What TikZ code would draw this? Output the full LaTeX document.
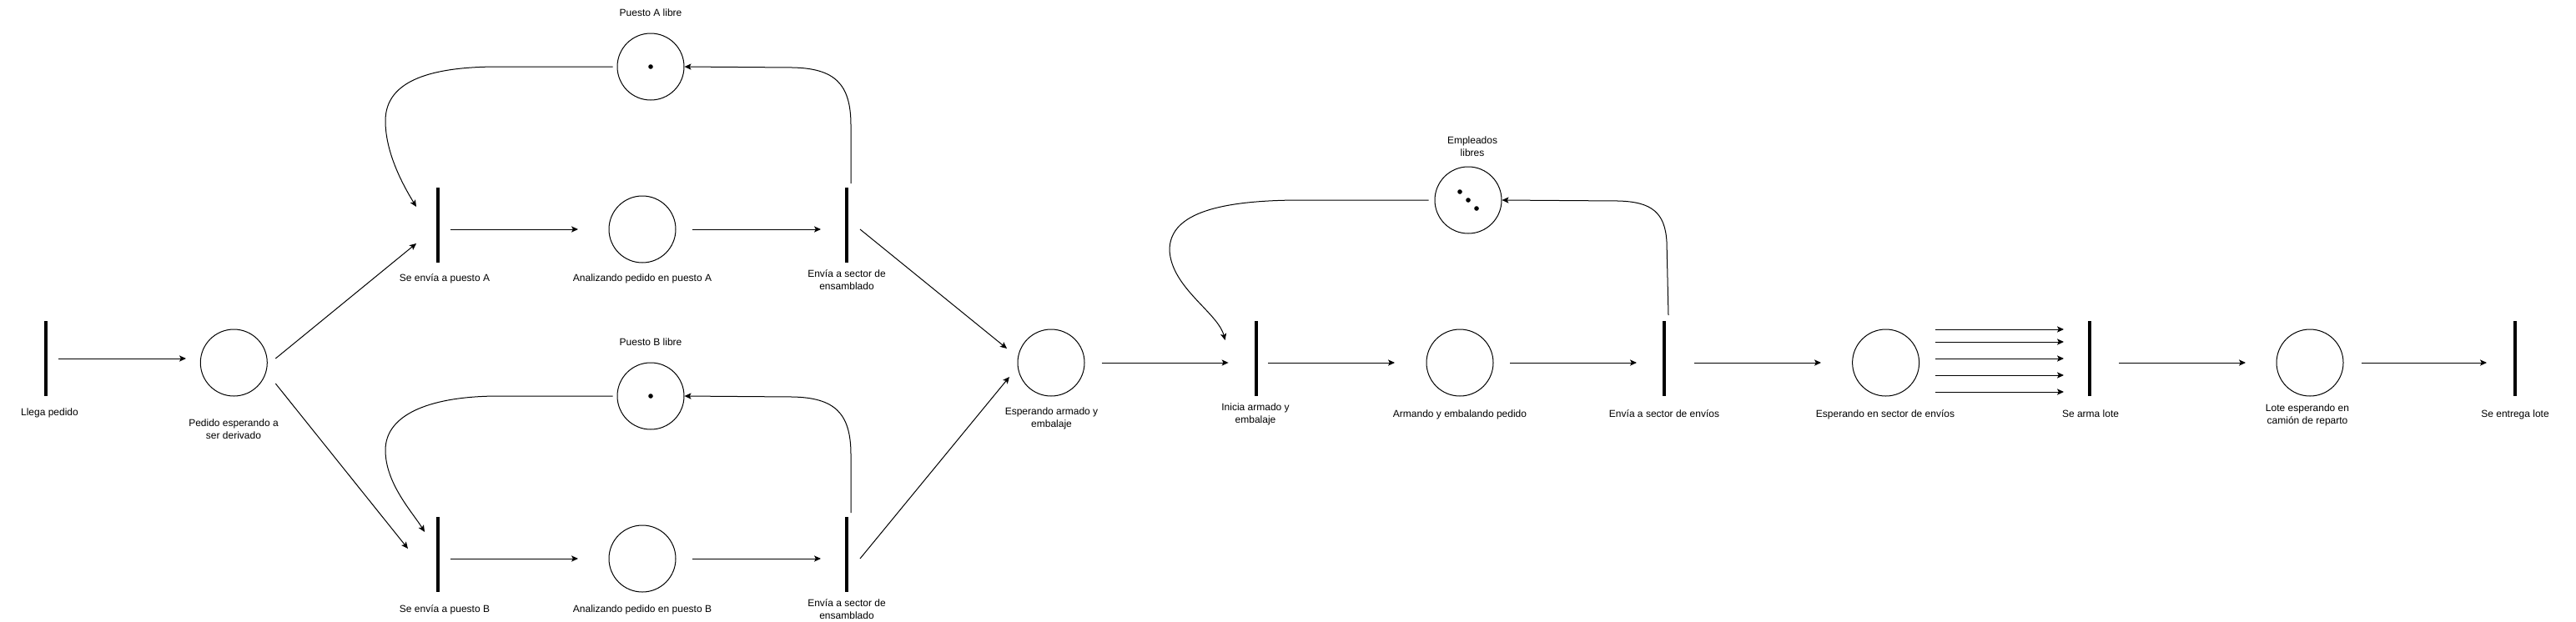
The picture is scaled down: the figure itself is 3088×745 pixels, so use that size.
\documentclass[tikz,border=0pt]{standalone}
\usepackage{fontspec}
\setmainfont{Liberation Sans}
\usetikzlibrary{arrows.meta,calc}
\begin{document}
\begin{tikzpicture}[x=0.5pt,y=-0.5pt,
  place/.style={circle,draw,line width=0.5pt,minimum size=40pt,inner sep=0pt},
  trans/.style={rectangle,fill=black,draw=none,minimum width=2pt,minimum height=45pt,inner sep=0pt},
  lbl/.style={font=\fontsize{6}{7.5}\selectfont,align=center,inner sep=0pt,anchor=base},
  arr/.style={line width=0.5pt,-{Stealth[length=4pt,width=3.6pt,inset=0.9pt]}},
  tok/.style={circle,fill=black,inner sep=0pt,minimum size=2.8pt}
]
\fill[white] (0,0) rectangle (3088,745);
\useasboundingbox (0,0) rectangle (3088,745);

% transitions and places
\node[trans] (t0) at (55.3,430) {};
\node[place] (p1) at (280.3,435) {};
\node[trans] (tA) at (525,270) {};
\node[place] (pA) at (770,275) {};
\node[trans] (eA) at (1015,270) {};
\node[place] (fA) at (780,80) {};
\node[trans] (tB) at (525,665) {};
\node[place] (pB) at (770,670) {};
\node[trans] (eB) at (1015,665) {};
\node[place] (fB) at (780,475) {};
\node[place] (p3) at (1260,435) {};
\node[trans] (tI) at (1506,430) {};
\node[place] (p4) at (1750,435) {};
\node[trans] (tE) at (1995,430) {};
\node[place] (fE) at (1760,240) {};
\node[place] (p5) at (2260.6,435) {};
\node[trans] (tL) at (2505.3,430) {};
\node[place] (p6) at (2769,435) {};
\node[trans] (tS) at (3015,430) {};

% tokens
\node[tok] (kA) at (fA.center) {};
\node[tok] (kB) at (fB.center) {};
\node[tok] (kE1) at ($(fE.center)+(-10,-10)$) {};
\node[tok] (kE2) at (fE.center) {};
\node[tok] (kE3) at ($(fE.center)+(10,10)$) {};

% labels (anchor = baseline of last line)
\node[lbl] (l0) at (59.5,498.5) {Llega pedido};
\node[lbl] (l1) at (280,526.5) {Pedido esperando a\\ser derivado};
\node[lbl] (lfA) at (780,19) {Puesto A libre};
\node[lbl] (ltA) at (533,337) {Se envía a puesto A};
\node[lbl] (lpA) at (770,337) {Analizando pedido en puesto A};
\node[lbl] (leA) at (1015,347) {Envía a sector de\\ensamblado};
\node[lbl] (lfB) at (780,414) {Puesto B libre};
\node[lbl] (ltB) at (533,734) {Se envía a puesto B};
\node[lbl] (lpB) at (770,734) {Analizando pedido en puesto B};
\node[lbl] (leB) at (1015,742.5) {Envía a sector de\\ensamblado};
\node[lbl] (lp3) at (1260.5,512) {Esperando armado y\\embalaje};
\node[lbl] (ltI) at (1505,507) {Inicia armado y\\embalaje};
\node[lbl] (lp4) at (1750,500) {Armando y embalando pedido};
\node[lbl] (ltE) at (1995,500) {Envía a sector de envíos};
\node[lbl] (lfE) at (1765,187) {Empleados\\libres};
\node[lbl] (lp5) at (2260,500) {Esperando en sector de envíos};
\node[lbl] (ltL) at (2506,500) {Se arma lote};
\node[lbl] (lp6) at (2766,508) {Lote esperando en\\camión de reparto};
\node[lbl] (ltS) at (3015,500) {Se entrega lote};

% straight connectors
\draw[arr] ($(t0)+(14.7,0)$) -- ($(p1)+(-57.3,-5)$);
\draw[arr] ($(p1)+(50,-5)$) -- ($(tA)+(-26,22)$);
\draw[arr] ($(p1)+(50,25)$) -- ($(tB)+(-36,-7)$);
\draw[arr] ($(tA)+(15,5)$) -- ($(pA)+(-77,0)$);
\draw[arr] ($(pA)+(59.5,0)$) -- ($(eA)+(-31,5)$);
\draw[arr] ($(tB)+(15,5)$) -- ($(pB)+(-77,0)$);
\draw[arr] ($(pB)+(59.5,0)$) -- ($(eB)+(-31,5)$);
\draw[arr] ($(eA)+(16,5)$) -- ($(p3)+(-53,-17)$);
\draw[arr] ($(eB)+(16,5)$) -- ($(p3)+(-50,17)$);
\draw[arr] ($(p3)+(60.5,0)$) -- ($(tI)+(-33.4,5)$);
\draw[arr] ($(tI)+(14,5)$) -- ($(p4)+(-78,0)$);
\draw[arr] ($(p4)+(60,0)$) -- ($(tE)+(-33,5)$);
\draw[arr] ($(tE)+(36,5)$) -- ($(p5)+(-77.6,0)$);
\draw[arr] ($(p5)+(59.4,-40)$) -- ($(tL)+(-31.3,-35)$);
\draw[arr] ($(p5)+(59.4,-25)$) -- ($(tL)+(-31.3,-20)$);
\draw[arr] ($(p5)+(59.4,-5)$) -- ($(tL)+(-31.3,0)$);
\draw[arr] ($(p5)+(59.4,15)$) -- ($(tL)+(-31.3,20)$);
\draw[arr] ($(p5)+(59.4,35)$) -- ($(tL)+(-31.3,40)$);
\draw[arr] ($(tL)+(34.7,5)$) -- ($(p6)+(-77,0)$);
\draw[arr] ($(p6)+(61.6,0)$) -- ($(tS)+(-34,5)$);

% resource loops
\draw[arr] ($(eA)+(5,-50)$) -- (1020,150) .. controls (1020,100) and (1000,82) .. (950,81) -- (fA.east);
\draw[arr] ($(fA)+(-45.4,0)$) -- (598,80) .. controls (520,80) and (462,95) .. (462,145)
  .. controls (462,185) and (485,225) .. ($(tA)+(-26,-22)$);
\draw[arr] ($(eB)+(5,-50)$) -- (1020,545) .. controls (1020,495) and (1000,477) .. (950,476) -- (fB.east);
\draw[arr] ($(fB)+(-45.4,0)$) -- (598,475) .. controls (520,475) and (462,495) .. (462,540)
  .. controls (462,580) and (495,615) .. ($(tB)+(-16,-27)$);
\draw[arr] ($(tE)+(5,-52)$) -- (1998,290) .. controls (1996,255) and (1980,242) .. (1940,241) -- (fE.east);
\draw[arr] ($(fE)+(-47.4,0)$) -- (1560,240) .. controls (1450,240) and (1402,260) .. (1402,300)
  .. controls (1404,345) and (1460,375) .. ($(tI)+(-37.4,-22)$);
\end{tikzpicture}
\end{document}
